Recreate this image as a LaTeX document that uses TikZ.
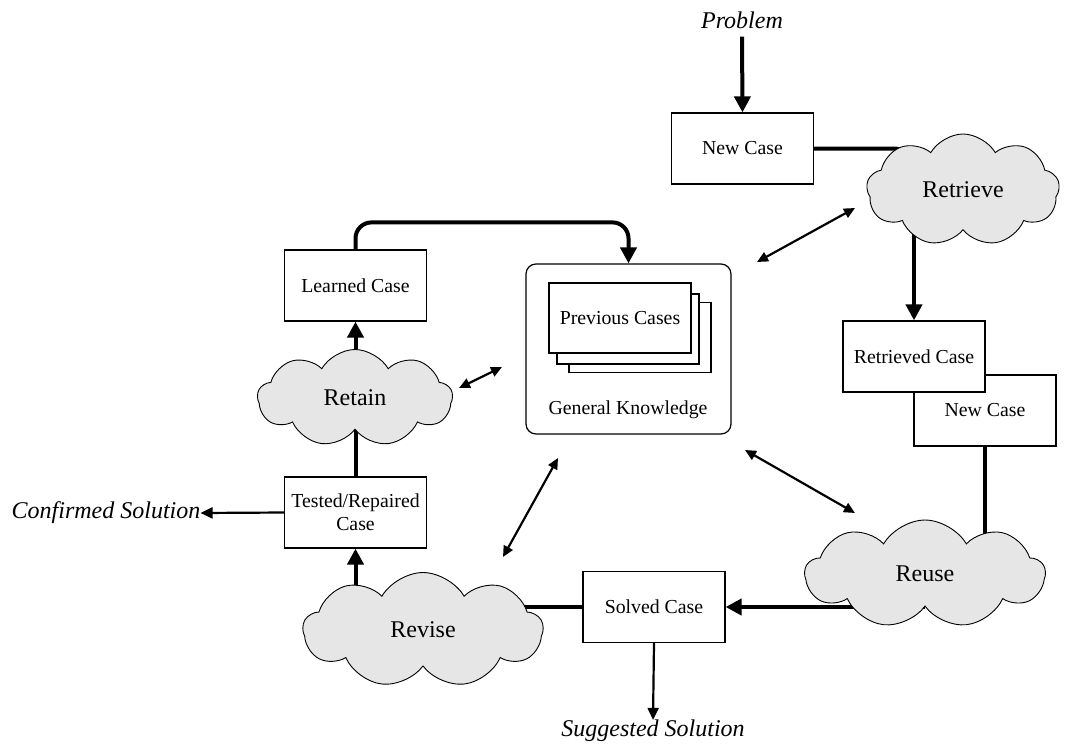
\documentclass[tikz,border=0pt]{standalone}
\usepackage{fontspec}
\setmainfont{Liberation Serif}
\usetikzlibrary{shapes.symbols,arrows.meta,backgrounds}
\definecolor{cloudgray}{RGB}{230,230,230}
\begin{document}
\begin{tikzpicture}[x=1pt,y=-1pt,
  casebox/.style={draw, line width=1.2pt, fill=white, minimum width=142pt,
    minimum height=71pt, inner sep=0pt, align=center,
    font=\fontsize{19.8}{23}\selectfont},
  stackcard/.style={draw, line width=1.2pt, fill=white, minimum width=142pt,
    minimum height=70pt, inner sep=0pt, font=\fontsize{19.8}{23}\selectfont},
  phase/.style={cloud, cloud puffs=9, cloud puff arc=120, aspect=1.8, draw,
    line width=0.9pt, fill=cloudgray, inner sep=0pt,
    font=\fontsize{24}{28}\selectfont},
  outtext/.style={font=\fontsize{24}{28}\selectfont\itshape, inner sep=0pt},
  heavy/.style={line width=4pt},
  heavyarrow/.style={line width=4pt, -{Triangle[length=16pt,width=16pt]}},
  thinarrow/.style={line width=2.2pt, -{Triangle[length=12pt,width=11pt]}},
  twoway/.style={line width=2.2pt,
    {Triangle[length=11pt,width=10pt]}-{Triangle[length=11pt,width=10pt]}},
]
\useasboundingbox (0,0) rectangle (1065,744);

% input and retrieval
\node[outtext] (prob) at (742,20) {Problem};
\node[casebox] (nc) at (742.5,148.5) {New Case};
\node[phase, minimum width=193pt, minimum height=112pt] (retr) at (963,190) {Retrieve};
\node[casebox] (nc2) at (985,410.5) {New Case};
\node[casebox] (rc) at (914,356.5) {Retrieved Case};

% reuse and revision
\node[phase, minimum width=240pt, minimum height=108pt] (reuse) at (925,574) {Reuse};
\node[casebox] (sc) at (654,607) {Solved Case};
\node[outtext] (sug) at (653,731) {Suggested Solution};
\node[phase, minimum width=240pt, minimum height=115pt] (rev) at (423,630) {Revise};
\node[casebox] (tr) at (355.5,512.5) {Tested/Repaired\\Case};
\node[outtext] (conf) at (106,513) {Confirmed Solution};

% retention
\node[phase, minimum width=195pt, minimum height=97pt] (ret) at (355,398) {Retain};
\node[casebox] (lc) at (355.5,285.5) {Learned Case};

% case base
\node[draw, rounded corners=10pt, line width=1.2pt, minimum width=205pt,
  minimum height=170pt] (gk) at (628.5,349) {};
\node[stackcard] (pc3) at (640,337.5) {};
\node[stackcard] (pc2) at (628,329) {};
\node[stackcard] (pc1) at (620,318) {Previous Cases};
\node[font=\fontsize{19.8}{23}\selectfont, inner sep=0pt] (gklabel) at (628,410) {General Knowledge};

% free ends of the two-way links
\coordinate (k1) at (757,262);
\coordinate (r1) at (855,208);
\coordinate (k2) at (502,367);
\coordinate (t2) at (459,388);
\coordinate (k3) at (745,450);
\coordinate (u3) at (855,513);
\coordinate (k4) at (558,458);
\coordinate (v4) at (503,557);
\coordinate (bend) at (908,175);

\begin{scope}[on background layer]
  \draw[heavyarrow] (prob.south) ++(0,8) -- (nc.north);
  \draw[heavy, rounded corners=14pt] (nc.east) -| (bend);
  \draw[heavyarrow] (retr.center -| rc.north) -- (rc.north);
  \draw[heavy] (nc2.south) -- (nc2.south |- reuse.center);
  \draw[heavyarrow] (reuse.center |- sc.east) -- (sc.east);
  \draw[thinarrow] (sc.south) -- (sug.north);
  \draw[heavy] (sc.west) -- (sc.west -| rev.center);
  \draw[heavyarrow] (rev.center -| tr.south) -- (tr.south);
  \draw[thinarrow] (tr.west) -- (conf.east);
  \draw[heavy] (tr.north) -- (tr.north |- ret.center);
  \draw[heavyarrow] (ret.center -| lc.south) -- (lc.south);
  \draw[heavyarrow, rounded corners=16pt] (lc.north) -- ++(0,-27) -| (gk.north);
  \draw[twoway] (k1) -- (r1);
  \draw[twoway] (t2) -- (k2);
  \draw[twoway] (k3) -- (u3);
  \draw[twoway] (k4) -- (v4);
\end{scope}
\end{tikzpicture}
\end{document}
